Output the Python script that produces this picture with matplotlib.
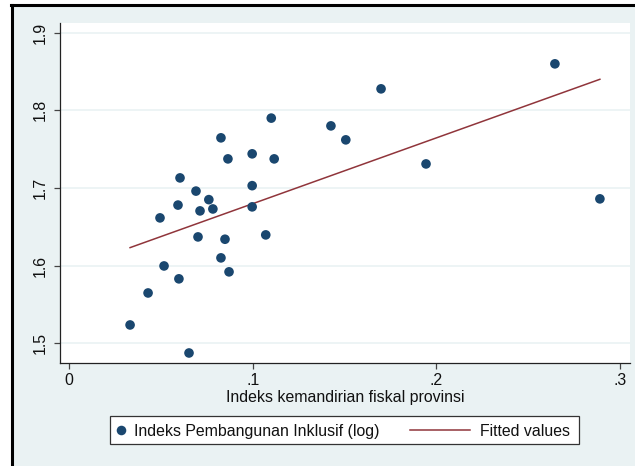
import matplotlib
matplotlib.use("Agg")
import matplotlib.pyplot as plt
from matplotlib.lines import Line2D
from matplotlib.patches import Rectangle

plt.rcParams['font.family'] = ['Liberation Sans', 'DejaVu Sans']

# Data
fiscal_index = [0.0331, 0.0429, 0.0516, 0.0494, 0.0597, 0.0592, 0.0603, 0.0652,
                0.0690, 0.0701, 0.0712, 0.0760, 0.0782, 0.0826, 0.0826, 0.0848,
                0.0864, 0.0870, 0.0996, 0.0996, 0.0996, 0.1070, 0.1100, 0.1116,
                0.1425, 0.1506, 0.1698, 0.1943, 0.2645, 0.2890]
ipi_log = [1.5236, 1.5648, 1.5996, 1.6615, 1.5830, 1.6780, 1.7130, 1.4875,
           1.6960, 1.6370, 1.6705, 1.6850, 1.6730, 1.7646, 1.6100, 1.6340,
           1.7375, 1.5920, 1.7440, 1.7030, 1.6757, 1.6396, 1.7900, 1.7375,
           1.7800, 1.7620, 1.8277, 1.7310, 1.8599, 1.6860]
fit_x = [0.0331, 0.2890]
fit_y = [1.6232, 1.8400]

x_ticks = [0, 0.1, 0.2, 0.3]
x_ticklabels = ["0", ".1", ".2", ".3"]
y_ticks = [1.5, 1.6, 1.7, 1.8, 1.9]
y_ticklabels = ["1.5", "1.6", "1.7", "1.8", "1.9"]
series_label = "Indeks Pembangunan Inklusif (log)"
fit_label = "Fitted values"
x_title = "Indeks kemandirian fiskal provinsi"

W, H = 635, 466
BG = "#EAF2F3"
NAVY = "#1A476F"
MAROON = "#90353B"
FS = 11.4

fig = plt.figure(figsize=(W / 100, H / 100), dpi=100, facecolor="white")
T = fig.transFigure

def fx(px):
    return px / W

def fy(py):
    return 1 - py / H

# Outer graph region (light bluish) with black border on left and top
fig.add_artist(Rectangle((fx(12), 0), 1 - fx(12), fy(5), transform=T,
                         facecolor=BG, edgecolor="none", zorder=-5))
fig.add_artist(Line2D([fx(12), fx(12)], [0, fy(4.5)], transform=T,
                      color="black", linewidth=2.2, zorder=-4))
fig.add_artist(Line2D([fx(11), 1], [fy(4.5), fy(4.5)], transform=T,
                      color="black", linewidth=2.2, zorder=-4))

ax = fig.add_axes([fx(60), fy(363), (630 - 60) / W, (363 - 23) / H])
ax.set_zorder(1)
ax.set_facecolor("white")

ax.set_xlim(-0.00507, 0.3054)
ax.set_ylim(1.4746, 1.9125)

for yv in y_ticks:
    ax.axhline(yv, color=BG, linewidth=1.2, zorder=1)

ax.scatter(fiscal_index, ipi_log, s=48, color=NAVY, edgecolors="none", zorder=3)
ax.plot(fit_x, fit_y, color=MAROON, linewidth=1.1, zorder=2)

ax.set_xticks(x_ticks)
ax.set_xticklabels(x_ticklabels)
ax.set_yticks(y_ticks)
ax.set_yticklabels(y_ticklabels, rotation=90, va="center")

for s in ["top", "right"]:
    ax.spines[s].set_visible(False)
for s in ["left", "bottom"]:
    ax.spines[s].set_color("#222222")
    ax.spines[s].set_linewidth(0.9)

ax.tick_params(axis="both", length=4.5, width=0.9, color="#444444",
               labelsize=FS, labelcolor="#111111", pad=3)
ax.tick_params(axis="y", pad=4)

ax.set_xlabel(x_title, fontsize=FS, color="#111111", labelpad=1)

# Legend (Stata style: marker key beside text, line key wider)
fig.add_artist(Rectangle((fx(110), fy(444)), fx(579) - fx(110), fy(415.7) - fy(444),
                         transform=T, facecolor="white", edgecolor="#333333",
                         linewidth=0.9, zorder=2))
ly = fy(430)
fig.add_artist(Line2D([fx(121)], [ly], transform=T, marker="o", markersize=6.9,
                      color=NAVY, markeredgewidth=0, linestyle="none", zorder=3))
fig.text(fx(134), ly, series_label, fontsize=FS, color="#111111",
         ha="left", va="center_baseline", zorder=3)
fig.add_artist(Line2D([fx(410), fx(470)], [ly, ly], transform=T,
                      color=MAROON, linewidth=1.1, zorder=3))
fig.text(fx(480), ly, fit_label, fontsize=FS, color="#111111",
         ha="left", va="center_baseline", zorder=3)

fig.savefig("out.png", dpi=100, facecolor="white")
